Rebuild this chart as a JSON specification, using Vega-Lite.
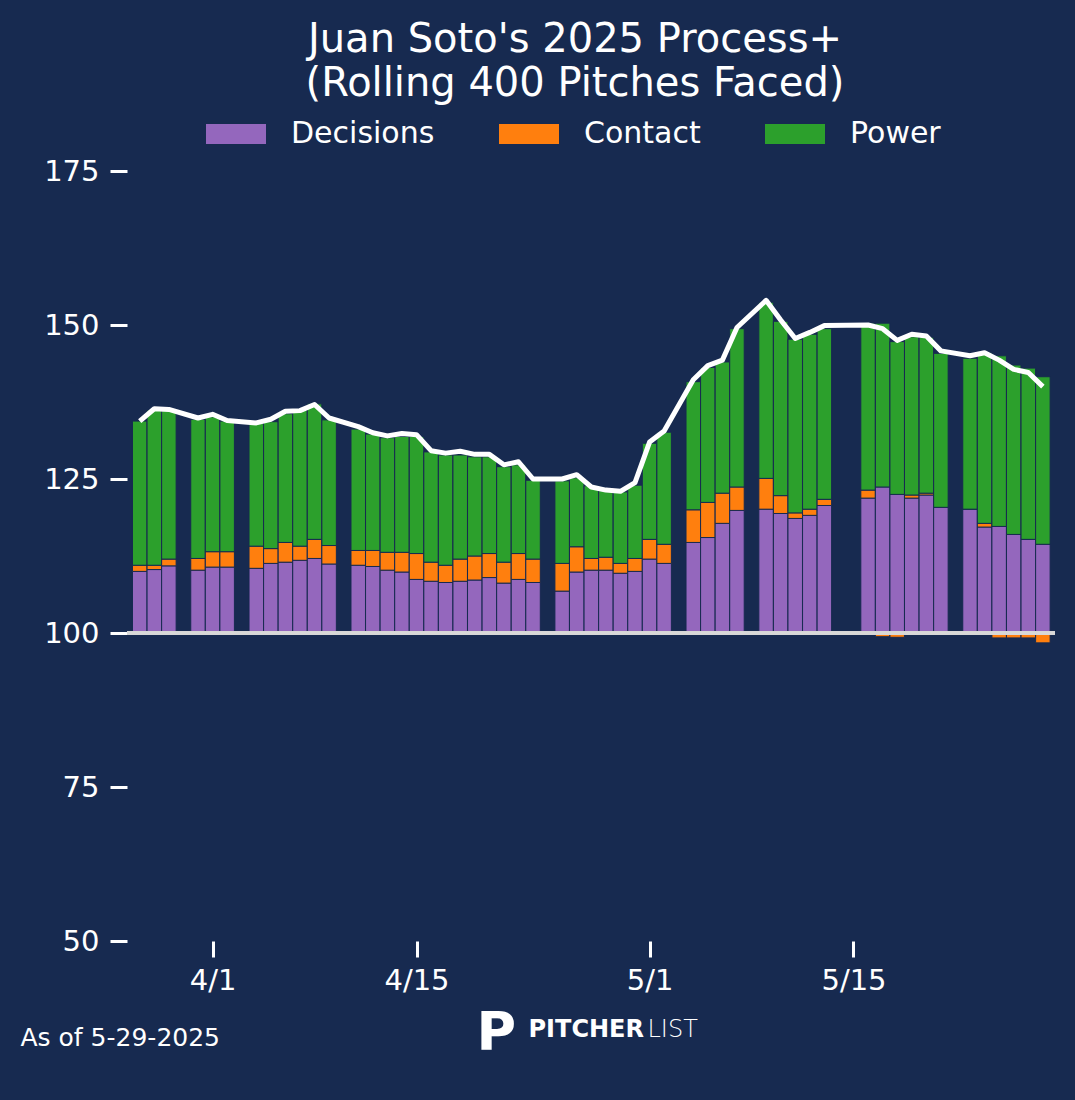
{
  "$schema": "https://vega.github.io/schema/vega-lite/v6.json",
  "autosize": "none",
  "width": 928,
  "height": 770,
  "padding": {"left": 127, "top": 171, "right": 20, "bottom": 159},
  "background": "#172a50",
  "title": {
    "text": ["Juan Soto's 2025 Process+", "(Rolling 400 Pitches Faced)"],
    "color": "white",
    "font": "DejaVu Sans",
    "fontSize": 40,
    "fontWeight": "normal",
    "lineHeight": 44,
    "anchor": "middle",
    "frame": "group",
    "dx": -16,
    "offset": 0
  },
  "data": {
    "values": [
      {"date": "2025-03-27", "Decisions": 10.0, "Contact": 1.0, "Power": 23.4, "ProcessPlus": 134.4},
      {"date": "2025-03-28", "Decisions": 10.3, "Contact": 0.7, "Power": 25.2, "ProcessPlus": 136.4},
      {"date": "2025-03-29", "Decisions": 10.9, "Contact": 1.1, "Power": 24.1, "ProcessPlus": 136.3},
      {"date": "2025-03-31", "Decisions": 10.2, "Contact": 1.9, "Power": 22.6, "ProcessPlus": 134.9},
      {"date": "2025-04-01", "Decisions": 10.7, "Contact": 2.5, "Power": 21.9, "ProcessPlus": 135.5},
      {"date": "2025-04-02", "Decisions": 10.7, "Contact": 2.5, "Power": 21.2, "ProcessPlus": 134.5},
      {"date": "2025-04-04", "Decisions": 10.5, "Contact": 3.6, "Power": 19.9, "ProcessPlus": 134.1},
      {"date": "2025-04-05", "Decisions": 11.3, "Contact": 2.4, "Power": 20.6, "ProcessPlus": 134.7},
      {"date": "2025-04-06", "Decisions": 11.5, "Contact": 3.2, "Power": 20.9, "ProcessPlus": 136.0},
      {"date": "2025-04-07", "Decisions": 11.8, "Contact": 2.3, "Power": 22.1, "ProcessPlus": 136.1},
      {"date": "2025-04-08", "Decisions": 12.1, "Contact": 3.1, "Power": 22.0, "ProcessPlus": 137.1},
      {"date": "2025-04-09", "Decisions": 11.2, "Contact": 3.0, "Power": 20.4, "ProcessPlus": 134.9},
      {"date": "2025-04-11", "Decisions": 11.0, "Contact": 2.4, "Power": 19.7, "ProcessPlus": 133.5},
      {"date": "2025-04-12", "Decisions": 10.8, "Contact": 2.6, "Power": 18.9, "ProcessPlus": 132.5},
      {"date": "2025-04-13", "Decisions": 10.2, "Contact": 2.9, "Power": 18.6, "ProcessPlus": 132.0},
      {"date": "2025-04-14", "Decisions": 9.9, "Contact": 3.2, "Power": 18.8, "ProcessPlus": 132.4},
      {"date": "2025-04-15", "Decisions": 8.7, "Contact": 4.2, "Power": 19.0, "ProcessPlus": 132.2},
      {"date": "2025-04-16", "Decisions": 8.4, "Contact": 3.1, "Power": 17.9, "ProcessPlus": 129.6},
      {"date": "2025-04-17", "Decisions": 8.2, "Contact": 2.8, "Power": 17.9, "ProcessPlus": 129.2},
      {"date": "2025-04-18", "Decisions": 8.4, "Contact": 3.6, "Power": 16.9, "ProcessPlus": 129.5},
      {"date": "2025-04-19", "Decisions": 8.6, "Contact": 3.9, "Power": 16.1, "ProcessPlus": 129.0},
      {"date": "2025-04-20", "Decisions": 9.0, "Contact": 3.9, "Power": 15.7, "ProcessPlus": 129.0},
      {"date": "2025-04-21", "Decisions": 8.1, "Contact": 3.4, "Power": 15.5, "ProcessPlus": 127.3},
      {"date": "2025-04-22", "Decisions": 8.7, "Contact": 4.2, "Power": 14.4, "ProcessPlus": 127.8},
      {"date": "2025-04-23", "Decisions": 8.2, "Contact": 3.8, "Power": 12.8, "ProcessPlus": 125.0},
      {"date": "2025-04-25", "Decisions": 6.8, "Contact": 4.5, "Power": 13.4, "ProcessPlus": 125.0},
      {"date": "2025-04-26", "Decisions": 9.9, "Contact": 4.1, "Power": 11.2, "ProcessPlus": 125.7},
      {"date": "2025-04-27", "Decisions": 10.2, "Contact": 1.9, "Power": 11.8, "ProcessPlus": 123.7},
      {"date": "2025-04-28", "Decisions": 10.2, "Contact": 2.1, "Power": 10.8, "ProcessPlus": 123.2},
      {"date": "2025-04-29", "Decisions": 9.7, "Contact": 1.6, "Power": 11.6, "ProcessPlus": 123.0},
      {"date": "2025-04-30", "Decisions": 10.0, "Contact": 2.1, "Power": 11.9, "ProcessPlus": 124.4},
      {"date": "2025-05-01", "Decisions": 12.0, "Contact": 3.2, "Power": 15.6, "ProcessPlus": 131.0},
      {"date": "2025-05-02", "Decisions": 11.3, "Contact": 3.1, "Power": 18.2, "ProcessPlus": 132.8},
      {"date": "2025-05-04", "Decisions": 14.7, "Contact": 5.3, "Power": 20.8, "ProcessPlus": 141.1},
      {"date": "2025-05-05", "Decisions": 15.5, "Contact": 5.7, "Power": 21.9, "ProcessPlus": 143.4},
      {"date": "2025-05-06", "Decisions": 17.8, "Contact": 4.9, "Power": 21.3, "ProcessPlus": 144.3},
      {"date": "2025-05-07", "Decisions": 19.9, "Contact": 3.8, "Power": 25.7, "ProcessPlus": 149.6},
      {"date": "2025-05-09", "Decisions": 20.1, "Contact": 5.0, "Power": 28.6, "ProcessPlus": 154.0},
      {"date": "2025-05-10", "Decisions": 19.4, "Contact": 2.9, "Power": 28.3, "ProcessPlus": 150.8},
      {"date": "2025-05-11", "Decisions": 18.6, "Contact": 0.9, "Power": 28.2, "ProcessPlus": 147.8},
      {"date": "2025-05-12", "Decisions": 19.1, "Contact": 1.0, "Power": 28.4, "ProcessPlus": 148.8},
      {"date": "2025-05-13", "Decisions": 20.7, "Contact": 1.0, "Power": 27.7, "ProcessPlus": 149.9},
      {"date": "2025-05-16", "Decisions": 21.9, "Contact": 1.3, "Power": 27.1, "ProcessPlus": 150.0},
      {"date": "2025-05-17", "Decisions": 23.7, "Contact": -0.6, "Power": 26.6, "ProcessPlus": 149.4},
      {"date": "2025-05-18", "Decisions": 22.5, "Contact": -0.7, "Power": 24.8, "ProcessPlus": 147.5},
      {"date": "2025-05-19", "Decisions": 21.9, "Contact": 0.5, "Power": 25.7, "ProcessPlus": 148.5},
      {"date": "2025-05-20", "Decisions": 22.4, "Contact": 0.3, "Power": 25.3, "ProcessPlus": 148.2},
      {"date": "2025-05-21", "Decisions": 20.4, "Contact": -0.2, "Power": 25.0, "ProcessPlus": 145.8},
      {"date": "2025-05-23", "Decisions": 20.1, "Contact": 0.0, "Power": 24.5, "ProcessPlus": 145.0},
      {"date": "2025-05-24", "Decisions": 17.2, "Contact": 0.6, "Power": 27.7, "ProcessPlus": 145.5},
      {"date": "2025-05-25", "Decisions": 17.3, "Contact": -0.8, "Power": 27.7, "ProcessPlus": 144.3},
      {"date": "2025-05-26", "Decisions": 16.0, "Contact": -0.8, "Power": 27.5, "ProcessPlus": 142.8},
      {"date": "2025-05-27", "Decisions": 15.2, "Contact": -0.8, "Power": 27.8, "ProcessPlus": 142.3},
      {"date": "2025-05-28", "Decisions": 14.4, "Contact": -1.6, "Power": 27.2, "ProcessPlus": 140.0}
    ]
  },
  "layer": [
    {
      "transform": [
        {"fold": ["Decisions", "Contact", "Power"], "as": ["component", "value"]},
        {"calculate": "indexof(['Decisions', 'Contact', 'Power'], datum.component)", "as": "stackOrder"}
      ],
      "mark": {"type": "bar", "width": 14.5, "stroke": "#172a50", "strokeWidth": 1},
      "encoding": {
        "x": {
          "field": "date",
          "type": "temporal",
          "scale": {
            "type": "utc",
            "padding": 0,
            "domain": [
              {"year": 2025, "month": 3, "date": 26, "hours": 3, "utc": true},
              {"year": 2025, "month": 5, "date": 28, "hours": 20, "utc": true}
            ]
          },
          "axis": {
            "orient": "bottom",
            "values": [
              {"year": 2025, "month": 4, "date": 1, "utc": true},
              {"year": 2025, "month": 4, "date": 15, "utc": true},
              {"year": 2025, "month": 5, "date": 1, "utc": true},
              {"year": 2025, "month": 5, "date": 15, "utc": true}
            ],
            "labelExpr": "utcFormat(datum.value, '%-m/%-d')",
            "domain": false,
            "grid": false,
            "tickSize": 16,
            "tickWidth": 3,
            "tickColor": "white",
            "labelColor": "white",
            "labelFontSize": 29,
            "labelPadding": 9,
            "title": "PITCHER",
            "titleFont": "DejaVu Sans",
            "titleFontWeight": "bold",
            "titleFontSize": 24,
            "titleColor": "white",
            "titleAlign": "left",
            "titleBaseline": "alphabetic",
            "titleX": 401,
            "titleY": 95
          }
        },
        "y": {
          "field": "value",
          "type": "quantitative",
          "stack": "zero",
          "scale": {"domain": [-50, 75]},
          "axis": {
            "orient": "left",
            "labels": false,
            "ticks": false,
            "domain": false,
            "grid": false,
            "title": "As of 5-29-2025",
            "titleAngle": 0,
            "titleAlign": "left",
            "titleBaseline": "alphabetic",
            "titleX": -107,
            "titleY": 874,
            "titleFontSize": 25,
            "titleFontWeight": "normal",
            "titleColor": "white"
          }
        },
        "color": {
          "field": "component",
          "type": "nominal",
          "scale": {
            "domain": ["Decisions", "Contact", "Power"],
            "range": ["#9467bd", "#ff7f0e", "#2ca02c"]
          },
          "legend": {
            "orient": "none",
            "legendX": 79,
            "legendY": -67,
            "direction": "horizontal",
            "title": null,
            "symbolType": "M-1,-0.333H1V0.333H-1Z",
            "symbolSize": 3600,
            "symbolStrokeWidth": 0,
            "labelFontSize": 30,
            "labelColor": "white",
            "labelOffset": 25,
            "labelLimit": 400,
            "columnPadding": 64
          }
        },
        "order": {"field": "stackOrder", "type": "quantitative", "sort": "ascending"}
      }
    },
    {
      "mark": {"type": "rule", "color": "#d8d8d8", "strokeWidth": 3},
      "encoding": {
        "y": {
          "datum": 100,
          "type": "quantitative",
          "scale": {"domain": [50, 175]},
          "axis": {
            "orient": "left",
            "labels": false,
            "ticks": false,
            "domain": false,
            "grid": false,
            "title": "P",
            "titleAngle": 0,
            "titleAlign": "left",
            "titleBaseline": "alphabetic",
            "titleX": 349,
            "titleY": 878,
            "titleFontSize": 54,
            "titleFontWeight": "bold",
            "titleColor": "white"
          }
        }
      }
    },
    {
      "mark": {"type": "line", "color": "white", "strokeWidth": 5, "strokeJoin": "round"},
      "encoding": {
        "x": {
          "field": "date",
          "type": "temporal",
          "axis": {
            "orient": "bottom",
            "labels": false,
            "ticks": false,
            "domain": false,
            "grid": false,
            "title": "LIST",
            "titleFont": "DejaVu Sans",
            "titleFontWeight": 200,
            "titleFontSize": 24,
            "titleColor": "white",
            "titleAlign": "left",
            "titleBaseline": "alphabetic",
            "titleX": 520,
            "titleY": 95
          }
        },
        "y": {
          "field": "ProcessPlus",
          "type": "quantitative",
          "scale": {"domain": [50, 175]},
          "axis": {
            "orient": "left",
            "values": [50, 75, 100, 125, 150, 175],
            "domain": false,
            "grid": false,
            "tickSize": 17,
            "tickWidth": 3,
            "tickColor": "white",
            "labelColor": "white",
            "labelFontSize": 29,
            "labelPadding": 11,
            "title": null
          }
        }
      }
    }
  ],
  "resolve": {"scale": {"y": "independent"}, "axis": {"x": "independent"}},
  "config": {
    "font": "DejaVu Sans",
    "view": {"stroke": null},
    "axis": {"labelFont": "DejaVu Sans"},
    "legend": {"labelFont": "DejaVu Sans", "padding": 0}
  }
}
